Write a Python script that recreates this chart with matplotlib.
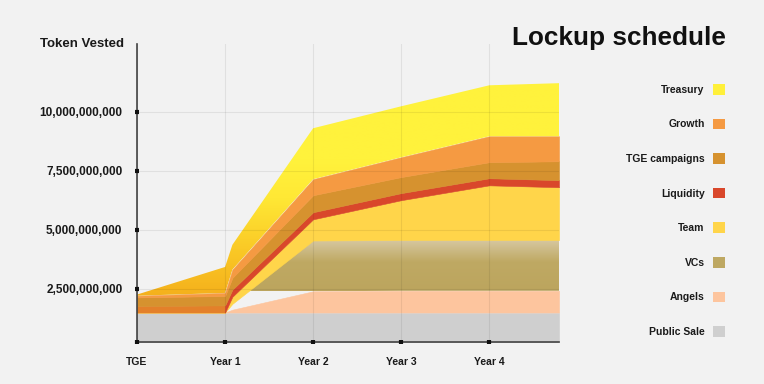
import numpy as np
import matplotlib
matplotlib.use("Agg")
import matplotlib.pyplot as plt
from matplotlib.colors import LinearSegmentedColormap
from matplotlib.patches import Patch
from matplotlib.ticker import FuncFormatter

plt.rcParams['font.family'] = ['Liberation Sans', 'DejaVu Sans']
plt.rcParams['font.weight'] = 'bold'

# months since TGE, values in billions of tokens (stacked, bottom first)
months = [0, 12, 13, 24, 36, 48, 57.5]
public_sale = [1.5, 1.5, 1.5, 1.5, 1.5, 1.5, 1.5]
angels = [0, 0, 0.12, 0.9, 0.92, 0.92, 0.92]
vcs = [0, 0, 0.25, 2.15, 2.15, 2.15, 2.15]
team = [0, 0, 0.3, 0.9, 1.69, 2.32, 2.24]
liquidity = [0.28, 0.3, 0.3, 0.3, 0.3, 0.3, 0.3]
tge_campaigns = [0.36, 0.4, 0.5, 0.72, 0.68, 0.68, 0.8]
growth = [0.07, 0.13, 0.35, 0.68, 0.84, 1.1, 1.06]
treasury = [0.05, 1.1, 1.05, 2.16, 2.16, 2.16, 2.25]

names = ["Public Sale", "Angels", "VCs", "Team", "Liquidity",
         "TGE campaigns", "Growth", "Treasury"]
series = [public_sale, angels, vcs, team, liquidity, tge_campaigns, growth, treasury]
colors = ["#CFCFCF", "#FDC59E", "#BEA862", "#FFD54A", "#D9472B",
          "#D6922F", "#F59A42", "#FFF23C"]

xticks = [0, 12, 24, 36, 48]
xlabels = ["TGE", "Year 1", "Year 2", "Year 3", "Year 4"]
yticks = [2.5, 5, 7.5, 10]

bg = "#F2F2F2"
fig = plt.figure(figsize=(7.64, 3.84), dpi=100, facecolor=bg)
ax = fig.add_axes([137 / 764, 1 - 342 / 384, 422 / 764, 298 / 384])
ax.set_facecolor(bg)

x = np.array(months, dtype=float)
data = np.array(series, dtype=float)
tops = np.cumsum(data, axis=0)
bottoms = tops - data
ylo, yhi = 0.25, 12.88


def gradient_fill(lo, hi, stops, y0, y1):
    poly = ax.fill_between(x, lo, hi, color="none", lw=0)
    cmap = LinearSegmentedColormap.from_list("g", stops)
    grad = np.linspace(0, 1, 256).reshape(-1, 1)
    im = ax.imshow(grad, cmap=cmap, aspect="auto", origin="lower",
                   extent=[x[0], x[-1], y0, y1], zorder=1, interpolation="bilinear")
    im.set_clip_path(poly.get_paths()[0], transform=ax.transData)


for i, name in enumerate(names):
    lo, hi = bottoms[i], tops[i]
    if name == "Treasury":
        gradient_fill(lo, hi, [(0, "#F4AE1B"), (0.2, "#FAC926"), (0.4, "#FFE835"),
                               (0.55, "#FFF23C"), (1, "#FFF23C")], 2.0, yhi)
    elif name == "VCs":
        gradient_fill(lo, hi, [(0, "#BCA55E"), (0.55, "#BFA963"), (1, "#D8CAA6")], 2.4, 4.62)
    elif name == "Liquidity":
        ax.fill_between(x, lo, hi, where=x <= 12, color="#E3802A", lw=0.4, ec="#E3802A")
        ax.fill_between(x, lo, hi, where=x >= 12, color=colors[i], lw=0.4, ec=colors[i])
    else:
        ax.fill_between(x, lo, hi, color=colors[i], lw=0.4, ec=colors[i])

ax.set_xlim(0, x[-1])
ax.set_ylim(ylo, yhi)
ax.set_axisbelow(False)
ax.grid(True, color="#000000", alpha=0.07, lw=0.8)

ax.set_xticks(xticks)
ax.set_xticklabels(xlabels)
ax.set_yticks(yticks)
ax.yaxis.set_major_formatter(FuncFormatter(lambda v, p: f"{v * 1e9:,.0f}"))
ax.tick_params(axis="y", direction="inout", length=3, width=3, color="#111111",
               labelsize=8.5, pad=9, labelcolor="#1a1a1a")
ax.tick_params(axis="x", direction="inout", length=3, width=3, color="#111111",
               labelsize=7.5, pad=9, labelcolor="#1a1a1a")

for s in ["top", "right"]:
    ax.spines[s].set_visible(False)
for s in ["left", "bottom"]:
    ax.spines[s].set_color("#444444")
    ax.spines[s].set_linewidth(1.2)

fig.text(124 / 764, 1 - 44 / 384, "Token Vested", ha="right", va="center",
         fontsize=9.5, color="#1a1a1a")
fig.text(512 / 764, 1 - 45 / 384, "Lockup schedule", ha="left", va="baseline",
         fontsize=18.8, color="#111111")

handles = [Patch(facecolor=colors[i], edgecolor="none") for i in range(len(names))][::-1]
handles[0] = Patch(facecolor="#FFF03A", edgecolor="none")
fig.legend(handles, names[::-1], loc="upper right", bbox_to_anchor=(725 / 764, 1 - 84 / 384),
           frameon=False, markerfirst=False, fontsize=7.5, handlelength=1.2,
           handleheight=1.2, handletextpad=0.75, labelspacing=2.28, borderaxespad=0,
           borderpad=0, labelcolor="#1a1a1a")

fig.savefig("out.png", dpi=100, facecolor=bg)
